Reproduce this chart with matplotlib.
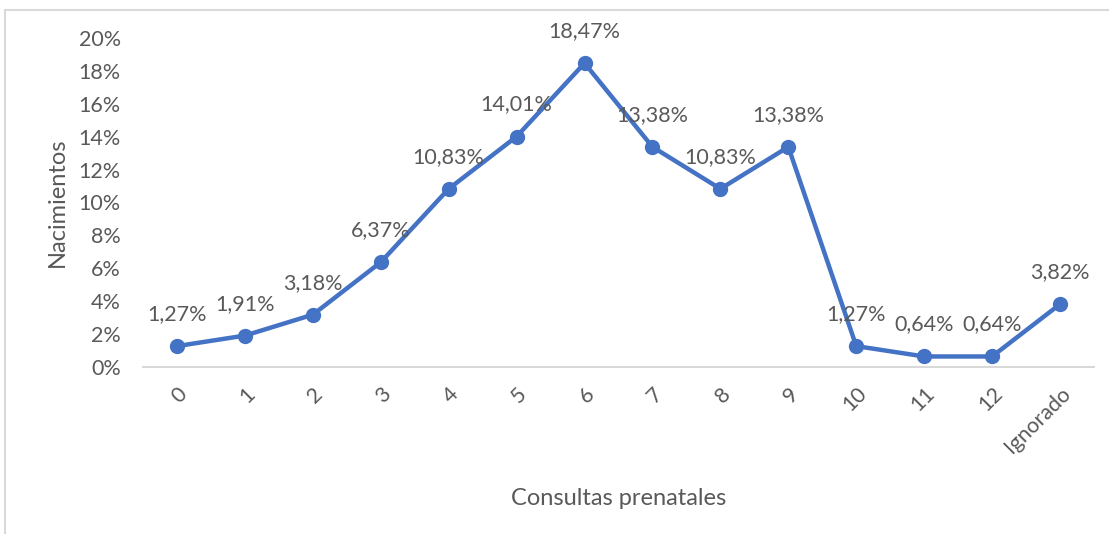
import matplotlib.pyplot as plt
from matplotlib.patches import Rectangle

# Datos
categorias = ["0", "1", "2", "3", "4", "5", "6", "7", "8", "9", "10", "11", "12", "Ignorado"]
porcentajes = [1.27, 1.91, 3.18, 6.37, 10.83, 14.01, 18.47, 13.38, 10.83, 13.38, 1.27, 0.64, 0.64, 3.82]
yticks = [0, 2, 4, 6, 8, 10, 12, 14, 16, 18, 20]

plt.rcParams['font.family'] = ['Lato', 'DejaVu Sans']
gris = '#595959'
azul = '#4472C4'

W, H = 1109, 534
fig = plt.figure(figsize=(W / 100, H / 100), dpi=100)

# borde del area del grafico
fig.patches.append(Rectangle((5 / W, -0.1), 1.2, 1 - 10 / H + 0.1, transform=fig.transFigure,
                             fill=False, edgecolor='#D9D9D9', linewidth=1.5))

ax = fig.add_axes([143 / W, 1 - 367 / H, (1094 - 143) / W, (367 - 38) / H])
x = list(range(len(categorias)))
ax.plot(x, porcentajes, color=azul, linewidth=3.2, marker='o', markersize=10, zorder=3)

for xi, v in zip(x, porcentajes):
    ax.annotate(f"{v:.2f}%".replace('.', ','), (xi, v), xytext=(0, 23), textcoords='offset points',
                ha='center', va='center', fontsize=15.5, color=gris)

ax.set_xlim(-0.5, len(categorias) - 0.5)
ax.set_ylim(0, 20)
ax.set_yticks(yticks)
ax.set_yticklabels([f"{t}%" for t in yticks])
ax.set_xticks(x)
ax.set_xticklabels(categorias, rotation=45, ha='right', va='top', rotation_mode='anchor')

for s in ['top', 'right', 'left']:
    ax.spines[s].set_visible(False)
ax.spines['bottom'].set_color('#D9D9D9')
ax.spines['bottom'].set_linewidth(1.5)
ax.tick_params(length=0, colors=gris, labelsize=15.5)
ax.tick_params(axis='x', pad=12)
ax.tick_params(axis='y', pad=16)

ax.set_ylabel("Nacimientos", fontsize=17, color=gris, labelpad=8)
ax.set_xlabel("Consultas prenatales", fontsize=17, color=gris, labelpad=22)

fig.savefig("out.png", dpi=100)
